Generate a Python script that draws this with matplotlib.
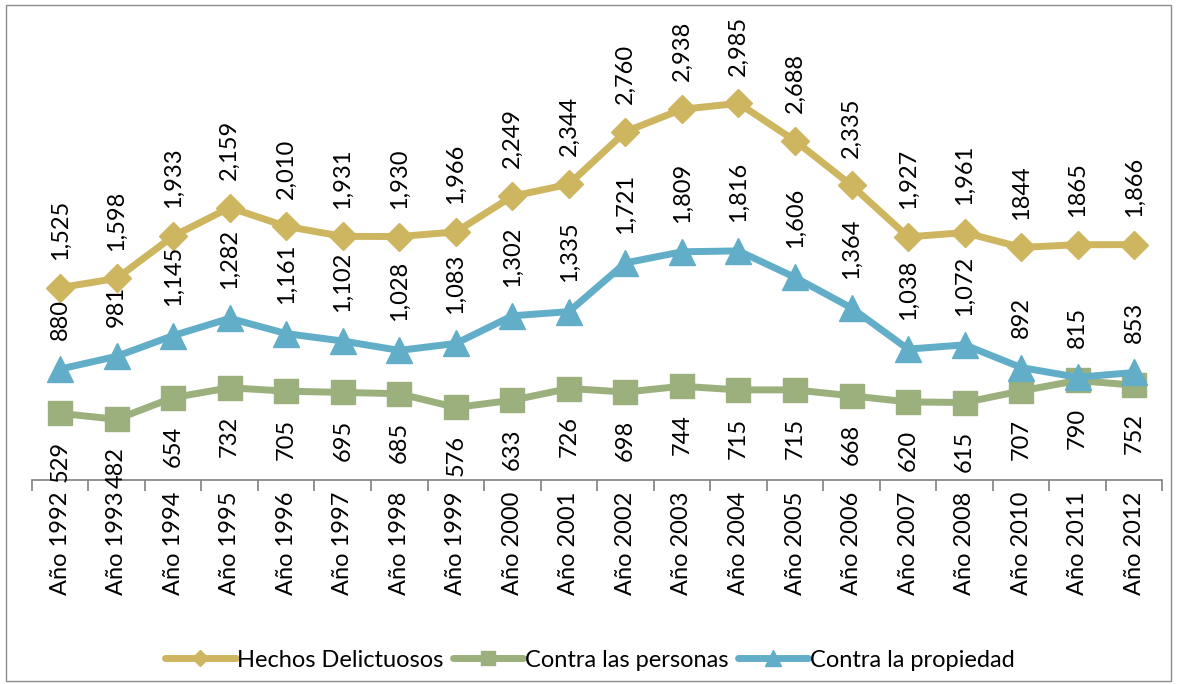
import matplotlib.pyplot as plt
from matplotlib.patches import Rectangle

plt.rcParams['font.family'] = ['Lato', 'DejaVu Sans']

# categories (no 2009 in the source)
years = ["Año 1992", "Año 1993", "Año 1994", "Año 1995", "Año 1996", "Año 1997",
         "Año 1998", "Año 1999", "Año 2000", "Año 2001", "Año 2002", "Año 2003",
         "Año 2004", "Año 2005", "Año 2006", "Año 2007", "Año 2008", "Año 2010",
         "Año 2011", "Año 2012"]

hechos = [1525, 1598, 1933, 2159, 2010, 1931, 1930, 1966, 2249, 2344,
          2760, 2938, 2985, 2688, 2335, 1927, 1961, 1844, 1865, 1866]
personas = [529, 482, 654, 732, 705, 695, 685, 576, 633, 726,
            698, 744, 715, 715, 668, 620, 615, 707, 790, 752]
propiedad = [880, 981, 1145, 1282, 1161, 1102, 1028, 1083, 1302, 1335,
             1721, 1809, 1816, 1606, 1364, 1038, 1072, 892, 815, 853]

# data labels as printed in the chart
hechos_labels = ["1,525", "1,598", "1,933", "2,159", "2,010", "1,931", "1,930",
                 "1,966", "2,249", "2,344", "2,760", "2,938", "2,985", "2,688",
                 "2,335", "1,927", "1,961", "1844", "1865", "1,866"]
personas_labels = [str(v) for v in personas]
propiedad_labels = [f"{v:,}" for v in propiedad]

c_hechos = "#CDB65F"
c_personas = "#9BB07C"
c_propiedad = "#62AEC8"

fig = plt.figure(figsize=(11.79, 6.84), dpi=100)
ax = fig.add_axes([0.027, 0.298, 0.959, 0.646])

x = list(range(len(years)))
ax.plot(x, hechos, color=c_hechos, lw=5, marker="D", ms=14, mec=c_hechos,
        label="Hechos Delictuosos", solid_capstyle="round", zorder=3)
ax.plot(x, personas, color=c_personas, lw=5, marker="s", ms=17, mec=c_personas,
        label="Contra las personas", solid_capstyle="round", zorder=4)
ax.plot(x, propiedad, color=c_propiedad, lw=5, marker="^", ms=19, mec=c_propiedad,
        label="Contra la propiedad", solid_capstyle="round", zorder=5)

fs = 17
for i in x:
    ax.annotate(hechos_labels[i], (i, hechos[i]), xytext=(0, 20),
                textcoords="offset points", rotation=90, ha="center", va="bottom",
                fontsize=fs)
    ax.annotate(propiedad_labels[i], (i, propiedad[i]), xytext=(0, 21),
                textcoords="offset points", rotation=90, ha="center", va="bottom",
                fontsize=fs)
    ax.annotate(personas_labels[i], (i, personas[i]), xytext=(0, -20),
                textcoords="offset points", rotation=90, ha="center", va="top",
                fontsize=fs)

ax.set_xlim(-0.5, len(years) - 0.5)
ax.set_ylim(0, 3500)
ax.set_yticks([])
ax.set_xticks(x)
ax.set_xticklabels(years, rotation=90, fontsize=fs)
ax.tick_params(axis="x", which="major", length=0, pad=8)
ax.set_xticks([i - 0.5 for i in range(len(years) + 1)], minor=True)
ax.tick_params(axis="x", which="minor", length=8, color="#808080", width=1.2)
for s in ["left", "top", "right"]:
    ax.spines[s].set_visible(False)
ax.spines["bottom"].set_color("#808080")
ax.spines["bottom"].set_linewidth(1.2)

fig.legend(loc="center", bbox_to_anchor=(0.5, 0.035), ncol=3, frameon=False,
           fontsize=fs, handlelength=3.0, handletextpad=0.05, columnspacing=0.4,
           markerscale=0.6)

fig.patches.append(Rectangle((0.005, 0.005), 0.988, 0.988, transform=fig.transFigure,
                             fill=False, edgecolor="#8C8C8C", lw=1))

fig.savefig("out.png", dpi=100)
